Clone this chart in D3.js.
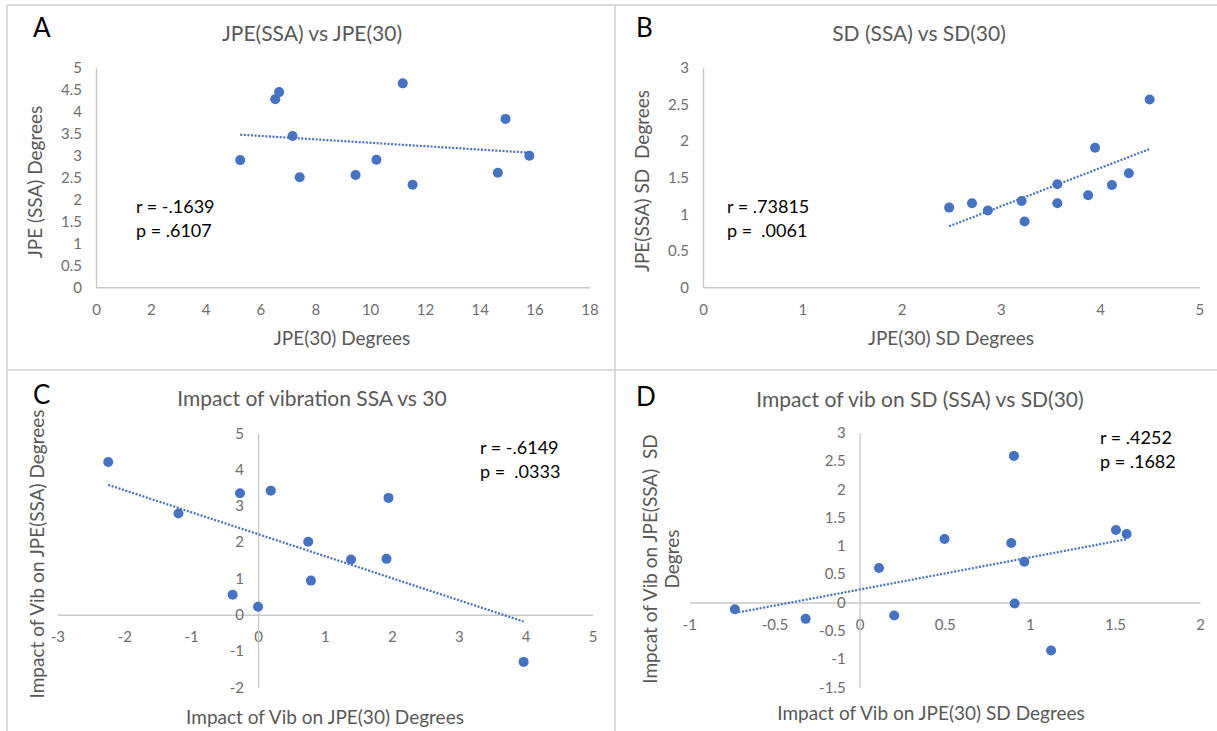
<!DOCTYPE html>
<html>
<head>
<meta charset="utf-8">
<script src="https://cdnjs.cloudflare.com/ajax/libs/d3/7.8.5/d3.min.js"></script>
<style>
  html, body { margin: 0; padding: 0; background: #fff; }
  svg { display: block; font-family: Lato, "Open Sans", sans-serif; }
  text { white-space: pre; }
</style>
</head>
<body>
<svg id="chart" width="1217" height="731"></svg>
<script>
// Panel A: JPE(SSA) vs JPE(30)
const aX = [5.26, 6.54, 6.68, 7.17, 7.43, 9.47, 10.23, 11.19, 11.55, 14.66, 14.94, 15.81];
const aY = [2.90, 4.29, 4.45, 3.45, 2.51, 2.56, 2.91, 4.65, 2.34, 2.61, 3.84, 3.00];
const aXTicks = [0, 2, 4, 6, 8, 10, 12, 14, 16, 18];
const aYTicks = [0, 0.5, 1, 1.5, 2, 2.5, 3, 3.5, 4, 4.5, 5];
const aStats = ["r = -.1639", "p = .6107"];

// Panel B: SD (SSA) vs SD(30)
const bX = [2.48, 2.71, 2.87, 3.21, 3.24, 3.57, 3.57, 3.88, 3.95, 4.12, 4.29, 4.50];
const bY = [1.09, 1.15, 1.05, 1.18, 0.90, 1.41, 1.15, 1.26, 1.91, 1.40, 1.56, 2.57];
const bXTicks = [0, 1, 2, 3, 4, 5];
const bYTicks = [0, 0.5, 1, 1.5, 2, 2.5, 3];
const bStats = ["r = .73815", "p =  .0061"];

// Panel C: impact of vibration, SSA vs 30
const cX = [-2.24, -1.19, -0.38, -0.27, 0.00, 0.19, 0.75, 0.79, 1.39, 1.92, 1.95, 3.97];
const cY = [4.21, 2.79, 0.55, 3.35, 0.22, 3.42, 2.01, 0.94, 1.52, 1.54, 3.22, -1.30];
const cXTicks = [-3, -2, -1, 0, 1, 2, 3, 4, 5];
const cYTicks = [-2, -1, 0, 1, 2, 3, 4, 5];
const cStats = ["r = -.6149", "p =  .0333"];

// Panel D: impact of vibration on SD, SSA vs 30
const dX = [-0.733, -0.317, 0.114, 0.203, 0.499, 0.891, 0.907, 0.911, 0.968, 1.125, 1.506, 1.569];
const dY = [-0.12, -0.29, 0.61, -0.23, 1.12, 1.05, 2.59, -0.02, 0.72, -0.85, 1.28, 1.21];
const dXTicks = [-1, -0.5, 0, 0.5, 1, 1.5, 2];
const dYTicks = [-1.5, -1, -0.5, 0, 0.5, 1, 1.5, 2, 2.5, 3];
const dStats = ["r = .4252", "p = .1682"];

const BLUE = "#4472C4";
const svg = d3.select("#chart");

// panel frame lines
const frame = svg.append("g").attr("stroke", "#d9d9d9").attr("stroke-width", 2);
frame.append("line").attr("x1", 7).attr("y1", 5).attr("x2", 1217).attr("y2", 5);
frame.append("line").attr("x1", 7).attr("y1", 5).attr("x2", 7).attr("y2", 731);
frame.append("line").attr("x1", 615).attr("y1", 5).attr("x2", 615).attr("y2", 731);
frame.append("line").attr("x1", 7).attr("y1", 370).attr("x2", 1217).attr("y2", 370);

function fmt(v) { return String(v); }

function drawPanel(p) {
  const g = svg.append("g");
  const x = d3.scaleLinear().domain(p.xDomain).range([p.left, p.right]);
  const y = d3.scaleLinear().domain(p.yDomain).range([p.bottom, p.top]);

  // axes cross at zero
  const xAxis = d3.axisBottom(x).tickValues(p.xTicks).tickFormat(fmt)
    .tickSize(0).tickSizeOuter(0).tickPadding(17);
  const yAxis = d3.axisLeft(y).tickValues(p.yTicks).tickFormat(fmt)
    .tickSize(0).tickSizeOuter(0).tickPadding(14);

  const gx = g.append("g").attr("transform", `translate(0,${y(0)})`).call(xAxis);
  const gy = g.append("g").attr("transform", `translate(${x(0)},0)`).call(yAxis);
  [gx, gy].forEach(a => {
    a.select(".domain").attr("stroke", "#c8c8c8").attr("stroke-width", 1.4);
    a.selectAll("text").attr("fill", "#6e6e6e").attr("font-size", 15)
      .attr("font-family", "Lato, 'Open Sans', sans-serif");
  });

  // linear trendline (least squares) across the data range
  const mx = d3.mean(p.xs), my = d3.mean(p.ys);
  const sxy = d3.sum(p.xs, (v, i) => (v - mx) * (p.ys[i] - my));
  const sxx = d3.sum(p.xs, v => (v - mx) * (v - mx));
  const slope = sxy / sxx, icpt = my - slope * mx;
  const [x0, x1] = d3.extent(p.xs);
  g.append("line")
    .attr("x1", x(x0)).attr("y1", y(icpt + slope * x0))
    .attr("x2", x(x1)).attr("y2", y(icpt + slope * x1))
    .attr("stroke", BLUE).attr("stroke-width", 2.2)
    .attr("stroke-dasharray", "2,1.6");

  // points
  g.selectAll("circle.pt").data(p.xs).enter().append("circle")
    .attr("class", "pt")
    .attr("cx", d => x(d)).attr("cy", (d, i) => y(p.ys[i]))
    .attr("r", 5).attr("fill", BLUE);

  // panel letter
  g.append("text").attr("x", p.letterPos[0]).attr("y", p.letterPos[1]).attr("dy", "0.36em")
    .attr("font-size", 26).attr("fill", "#000").text(p.letter);

  // chart title
  g.append("text").attr("x", p.titlePos[0]).attr("y", p.titlePos[1]).attr("dy", "0.36em")
    .attr("text-anchor", "middle").attr("font-size", 21).attr("fill", "#595959").text(p.title);

  // x axis title
  g.append("text").attr("x", p.xTitlePos[0]).attr("y", p.xTitlePos[1]).attr("dy", "0.36em")
    .attr("text-anchor", "middle").attr("font-size", 19).attr("fill", "#595959").text(p.xTitle);

  // y axis title (one or more lines)
  p.yTitle.forEach((line, i) => {
    const cx = p.yTitlePos[0] + (i - (p.yTitle.length - 1) / 2) * 21.5;
    g.append("text")
      .attr("transform", `translate(${cx},${p.yTitlePos[1]}) rotate(-90)`)
      .attr("dy", "0.36em").attr("text-anchor", "middle")
      .attr("font-size", 19).attr("fill", "#595959").text(line);
  });

  // correlation statistics
  p.stats.forEach((s, i) => {
    g.append("text").attr("x", p.statsPos[0]).attr("y", p.statsPos[1] + i * 24).attr("dy", "0.36em")
      .attr("font-size", 18).attr("fill", "#000").text(s);
  });
}

drawPanel({
  xs: aX, ys: aY, xTicks: aXTicks, yTicks: aYTicks, stats: aStats,
  xDomain: [0, 18], yDomain: [0, 5], left: 96, right: 589.4, top: 68, bottom: 287.3,
  letter: "A", letterPos: [33, 27.5],
  title: "JPE(SSA) vs JPE(30)", titlePos: [312, 33],
  xTitle: "JPE(30) Degrees", xTitlePos: [342, 338],
  yTitle: ["JPE (SSA) Degrees"], yTitlePos: [35, 182],
  statsPos: [136, 207]
});

drawPanel({
  xs: bX, ys: bY, xTicks: bXTicks, yTicks: bYTicks, stats: bStats,
  xDomain: [0, 5], yDomain: [0, 3], left: 703, right: 1199.3, top: 68, bottom: 287.3,
  letter: "B", letterPos: [636, 27.5],
  title: "SD (SSA) vs SD(30)", titlePos: [919, 33],
  xTitle: "JPE(30) SD Degrees", xTitlePos: [951, 338],
  yTitle: ["JPE(SSA) SD  Degrees"], yTitlePos: [642, 181],
  statsPos: [727, 207]
});

drawPanel({
  xs: cX, ys: cY, xTicks: cXTicks, yTicks: cYTicks, stats: cStats,
  xDomain: [-3, 5], yDomain: [-2, 5], left: 57.4, right: 592.5, top: 433.3, bottom: 687.3,
  letter: "C", letterPos: [33, 395],
  title: "Impact of vibration SSA vs 30", titlePos: [312, 398],
  xTitle: "Impact of Vib on JPE(30) Degrees", xTitlePos: [325, 717],
  yTitle: ["Impact of Vib on JPE(SSA) Degrees"], yTitlePos: [37, 554],
  statsPos: [480, 448]
});

drawPanel({
  xs: dX, ys: dY, xTicks: dXTicks, yTicks: dYTicks, stats: dStats,
  xDomain: [-1, 2], yDomain: [-1.5, 3], left: 689.4, right: 1200, top: 432.7, bottom: 687.3,
  letter: "D", letterPos: [636, 397],
  title: "Impact of vib on SD (SSA) vs SD(30)", titlePos: [920, 399],
  xTitle: "Impact of Vib on JPE(30) SD Degrees", xTitlePos: [931, 713],
  yTitle: ["Impcat of Vib on JPE(SSA)  SD", "Degres"], yTitlePos: [661, 559],
  statsPos: [1100, 438]
});
</script>
</body>
</html>
